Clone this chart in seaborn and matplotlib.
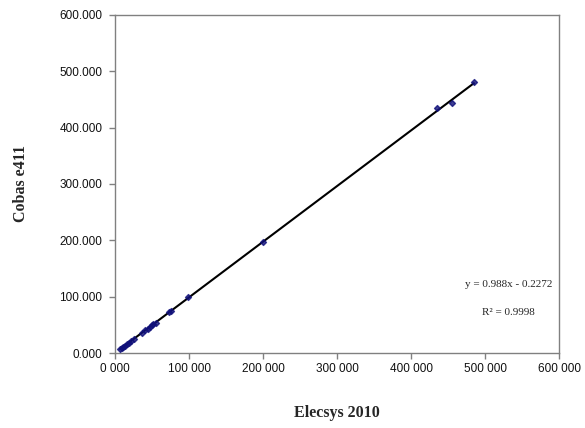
import matplotlib
matplotlib.use("Agg")
import matplotlib.pyplot as plt
import seaborn as sns
import pandas as pd

# Data
elecsys = [7000, 9000, 11000, 13000, 16000, 19000, 22000, 25000, 37000, 41000,
           44000, 47000, 50000, 52000, 55000, 73000, 75000, 98000, 200000,
           435000, 456000, 485000]
cobas = [6.5, 8.7, 10.6, 12.9, 15.6, 18.5, 21.8, 24.6, 36.4, 40.7,
         43.2, 46.5, 49.3, 51.6, 54.0, 72.3, 73.9, 99.0, 197.8,
         434.5, 443.5, 480.5]
x_ticks = [0, 100000, 200000, 300000, 400000, 500000, 600000]
x_tick_labels = ["0 000", "100 000", "200 000", "300 000", "400 000", "500 000", "600 000"]
y_ticks = [0, 100, 200, 300, 400, 500, 600]
y_tick_labels = ["0.000", "100.000", "200.000", "300.000", "400.000", "500.000", "600.000"]
eq_text = "y = 0.988x - 0.2272"
r2_text = "R² = 0.9998"

data = pd.DataFrame({"Elecsys 2010": elecsys, "Cobas e411": cobas})

sns.set_style("white")
plt.rcParams["font.family"] = ["Liberation Sans", "DejaVu Sans"]

fig = plt.figure(figsize=(5.85, 4.28), dpi=100)
ax = fig.add_axes([0.1966, 0.1752, 0.759, 0.7898])

sns.regplot(data=data, x="Elecsys 2010", y="Cobas e411", ax=ax, ci=None,
            marker="D", scatter_kws={"s": 9, "color": "#10107a", "zorder": 3},
            line_kws={"color": "black", "linewidth": 1.5, "zorder": 2})

ax.set_xlim(0, 600000)
ax.set_ylim(0, 600)
ax.set_xticks(x_ticks)
ax.set_xticklabels(x_tick_labels, fontsize=8.5, color="#111111")
ax.set_yticks(y_ticks)
ax.set_yticklabels(y_tick_labels, fontsize=8.5, color="#111111")
ax.tick_params(direction="out", length=4, width=1, color="#808080",
               left=True, bottom=True, pad=5)
ax.tick_params(axis="x", pad=3)

for s in ax.spines.values():
    s.set_color("#808080")
    s.set_linewidth(1)

ax.set_xlabel("Elecsys 2010", family="Liberation Serif", fontweight="bold",
              fontsize=11.5, labelpad=22)
ax.set_ylabel("Cobas e411", family="Liberation Serif", fontweight="bold",
              fontsize=11.5, labelpad=22)

ax.text(0.887, 0.195, eq_text, transform=ax.transAxes, ha="center",
        family="Liberation Serif", fontsize=8)
ax.text(0.887, 0.113, r2_text, transform=ax.transAxes, ha="center",
        family="Liberation Serif", fontsize=8)

plt.savefig("out.png", dpi=100)
